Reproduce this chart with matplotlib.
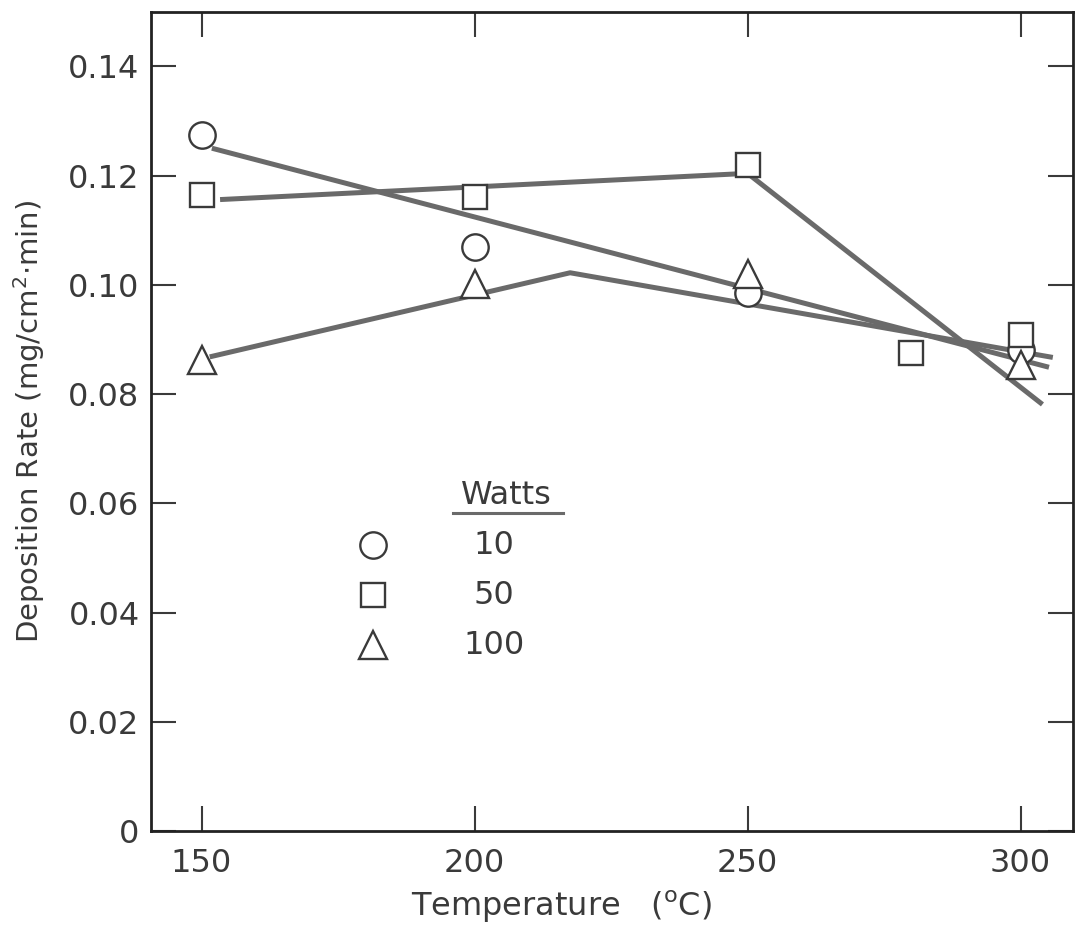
import numpy as np
import matplotlib
matplotlib.use('Agg')
import matplotlib.pyplot as plt

# measured points (temperature C, deposition rate mg/cm2.min)
temp_10w = [150, 200, 250, 300]
rate_10w = [0.1274, 0.1069, 0.0985, 0.0880]

temp_50w = [150, 200, 250, 280, 300]
rate_50w = [0.1164, 0.1160, 0.1220, 0.0876, 0.0908]

temp_100w = [150, 200, 250, 300]
rate_100w = [0.0862, 0.1002, 0.1020, 0.0853]

# hand-drawn trend lines
line_10w_x = [151.9, 305.2]
line_10w_y = [0.1250, 0.0849]
line_50w_x = [153.4, 250.0, 304.0]
line_50w_y = [0.1156, 0.1204, 0.0781]
line_100w_x = [151.5, 217.5, 305.9]
line_100w_y = [0.0868, 0.1022, 0.0867]

legend_labels = ['10', '50', '100']
xticks = [150, 200, 250, 300]
yticks = [0, 0.02, 0.04, 0.06, 0.08, 0.10, 0.12, 0.14]
ytick_labels = ['0', '0.02', '0.04', '0.06', '0.08', '0.10', '0.12', '0.14']

plt.rcParams['font.family'] = ['DejaVu Sans']
ink = '#3a3a3a'
line_col = '#6a6a6a'
fs = 23

fig = plt.figure(figsize=(10.82, 9.26), dpi=100)
ax = fig.add_axes([0.1393, 0.1026, 0.8524, 0.8848])

# trend lines
for lx, ly in [(line_10w_x, line_10w_y), (line_50w_x, line_50w_y), (line_100w_x, line_100w_y)]:
    ax.plot(lx, ly, color=line_col, lw=3.6, solid_capstyle='butt', zorder=2)

mk = dict(markerfacecolor='white', markeredgecolor=ink, markeredgewidth=1.7,
          linestyle='none', zorder=3)
ax.plot(temp_10w, rate_10w, marker='o', markersize=19, **mk)
ax.plot(temp_50w, rate_50w, marker='s', markersize=17.5, **mk)
ax.plot(temp_100w, rate_100w, marker='^', markersize=20, **mk)

ax.set_xlim(140.7, 309.6)
ax.set_ylim(0, 0.15)
ax.set_xticks(xticks)
ax.set_xticklabels([str(t) for t in xticks])
ax.set_yticks(yticks)
ax.set_yticklabels(ytick_labels)

ax.tick_params(direction='in', length=18, width=1.5, color=ink,
               top=True, right=True, labelsize=fs, labelcolor=ink)
ax.tick_params(axis='y', pad=8)
ax.tick_params(axis='x', pad=12)
for s in ax.spines.values():
    s.set_linewidth(2)
    s.set_color('#222222')

ax.set_xlabel('Temperature   ($\\mathregular{^{o}}$C)', fontsize=fs, color=ink)
ax.xaxis.set_label_coords(0.445, -0.071)
ax.set_ylabel('Deposition Rate (mg/cm$\\mathregular{^{2}}$$\\cdot$min)', fontsize=21,
              color=ink)
ax.yaxis.set_label_coords(-0.112, 0.5)

# legend drawn by hand
tr = ax.transAxes
legend_markers = ['o', 's', '^']
legend_sizes = [19, 17.5, 20]
legend_y = [0.349, 0.288, 0.227]
for m, s, y, lab in zip(legend_markers, legend_sizes, legend_y, legend_labels):
    ax.plot([0.241], [y], marker=m, markersize=s, transform=tr, **mk)
    ax.text(0.372, y, lab, transform=tr, ha='center', va='center',
            fontsize=fs, color=ink)
ax.text(0.386, 0.410, 'Watts', transform=tr, ha='center', va='center',
        fontsize=fs, color=ink)
ax.plot([0.328, 0.447], [0.388, 0.388], transform=tr, color=line_col, lw=2.2)

fig.savefig('out.png', dpi=100)
